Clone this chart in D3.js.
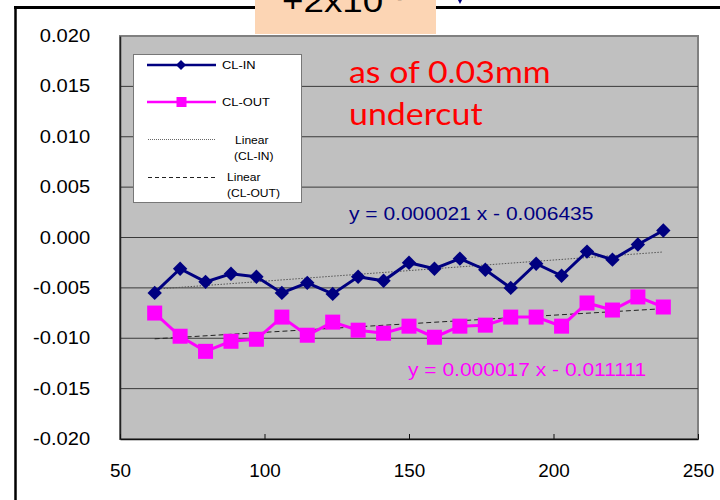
<!DOCTYPE html>
<html>
<head>
<meta charset="utf-8">
<script src="https://cdn.jsdelivr.net/npm/d3@7"></script>
<style>
  html, body { margin: 0; padding: 0; background: #ffffff; }
  svg { display: block; }
</style>
</head>
<body>
<svg id="chart" width="720" height="500"></svg>
<script>
// Measurement positions along the cut
const positions = [62, 70.8, 79.6, 88.4, 97.2, 106, 114.8, 123.6, 132.4, 141.2, 150,
                   158.8, 167.6, 176.4, 185.2, 194, 202.8, 211.6, 220.4, 229.2, 238];

// Deviation values per series
const clIn = [-0.0055, -0.0031, -0.0044, -0.0036, -0.0039, -0.0055, -0.0045, -0.0056, -0.0039, -0.0043, -0.0025,
              -0.0031, -0.0021, -0.0032, -0.0050, -0.0026, -0.0038, -0.0014, -0.0022, -0.0007, 0.0007];
const clOut = [-0.0075, -0.0098, -0.0113, -0.0103, -0.0101, -0.0079, -0.0097, -0.0084, -0.0092, -0.0095, -0.0088,
               -0.0099, -0.0088, -0.0087, -0.0079, -0.0079, -0.0088, -0.0065, -0.0072, -0.0059, -0.0069];

// Linear trend coefficients (slope, intercept) as printed on the chart
const trendIn = [0.000021, -0.006435];
const trendOut = [0.000017, -0.011111];

// Axis tick values
const yTicks = [-0.020, -0.015, -0.010, -0.005, 0.000, 0.005, 0.010, 0.015, 0.020];
const xTicks = [50, 100, 150, 200, 250];

const svg = d3.select("#chart");
const x = d3.scaleLinear().domain([50, 250]).range([120, 698]);
const y = d3.scaleLinear().domain([-0.020, 0.020]).range([439, 36]);
const AX = "Liberation Sans, Arial, sans-serif";

// Text with a slightly wide glyph proportion
function wideText(parent, tx, ty, str, size, sx, opts = {}) {
  return parent.append("text")
    .attr("transform", `translate(${tx},${ty}) scale(${sx},1)`)
    .attr("font-family", opts.family || AX)
    .attr("font-size", size)
    .attr("fill", opts.fill || "#000")
    .attr("text-anchor", opts.anchor || "start")
    .text(str);
}

// Outer frame lines
svg.append("line").attr("x1", 14).attr("x2", 720).attr("y1", 7.5).attr("y2", 7.5)
  .attr("stroke", "#000").attr("stroke-width", 3);
svg.append("line").attr("x1", 15.5).attr("x2", 15.5).attr("y1", 6).attr("y2", 500)
  .attr("stroke", "#000").attr("stroke-width", 2.5);

// Scale factor box at the top
svg.append("rect").attr("x", 255).attr("y", 0).attr("width", 181).attr("height", 34)
  .attr("fill", "#fcd5b4");
wideText(svg, 282, 12, "+2x10", 32, 1.15);
wideText(svg, 397, 4, "-", 14, 1.1);
svg.append("path").attr("d", "M458,0 L462,0 L460,4 Z").attr("fill", "#000080");

// Plot area
svg.append("rect").attr("x", x(50)).attr("y", y(0.020))
  .attr("width", x(250) - x(50)).attr("height", y(-0.020) - y(0.020))
  .attr("fill", "#c0c0c0").attr("stroke", "#808080").attr("stroke-width", 2);

// Gridlines
svg.append("g").selectAll("line")
  .data(yTicks.filter(v => v > -0.020 && v < 0.020))
  .join("line")
  .attr("x1", x(50)).attr("x2", x(250))
  .attr("y1", d => y(d)).attr("y2", d => y(d))
  .attr("stroke", "#3a3a3a").attr("stroke-width", 1);

// Y axis
const yAxis = svg.append("g").attr("transform", `translate(${x(50)},0)`)
  .call(d3.axisLeft(y).tickValues(yTicks).tickSize(0).tickPadding(26)
    .tickFormat(d3.format(".3f")));
yAxis.select(".domain").attr("stroke", "#222").attr("stroke-width", 1.5);
yAxis.selectAll("text").attr("font-family", AX).attr("font-size", 17.5).attr("fill", "#000")
  .attr("transform", "scale(1.15,1)")
  .text(d => d3.format(".3f")(d).replace("−", "-"));

// X axis
const xAxis = svg.append("g").attr("transform", `translate(0,${y(-0.020)})`)
  .call(d3.axisBottom(x).tickValues(xTicks).tickSizeInner(-5).tickSizeOuter(0).tickPadding(26)
    .tickFormat(d3.format("d")));
xAxis.select(".domain").attr("stroke", "#111").attr("stroke-width", 1.5);
xAxis.selectAll(".tick line").attr("stroke", "#111");
xAxis.selectAll("text").attr("font-family", AX).attr("font-size", 17.5).attr("fill", "#000")
  .attr("transform", "scale(1.08,1)");

// Trend lines from the printed equations
const trendLine = (c) => [positions[0], positions[positions.length - 1]].map(p => [p, c[0] * p + c[1]]);
const line = d3.line().x(d => x(d[0])).y(d => y(d[1]));
svg.append("path").datum(trendLine(trendIn)).attr("d", line)
  .attr("fill", "none").attr("stroke", "#555").attr("stroke-width", 1).attr("stroke-dasharray", "1.5,1.5");
svg.append("path").datum(trendLine(trendOut)).attr("d", line)
  .attr("fill", "none").attr("stroke", "#222").attr("stroke-width", 1).attr("stroke-dasharray", "5,3");

// Series lines
const seriesLine = d3.line().x((d, i) => x(positions[i])).y(d => y(d));
svg.append("path").datum(clOut).attr("d", seriesLine)
  .attr("fill", "none").attr("stroke", "#ff00ff").attr("stroke-width", 3);
svg.append("path").datum(clIn).attr("d", seriesLine)
  .attr("fill", "none").attr("stroke", "#000080").attr("stroke-width", 3);

// Markers
svg.append("g").selectAll("rect").data(clOut).join("rect")
  .attr("x", (d, i) => x(positions[i]) - 7.5).attr("y", d => y(d) - 7.5)
  .attr("width", 15).attr("height", 15).attr("fill", "#ff00ff");
svg.append("g").selectAll("path").data(clIn).join("path")
  .attr("d", (d, i) => {
    const cx = x(positions[i]), cy = y(d), r = 7.2;
    return `M${cx},${cy - r}L${cx + r},${cy}L${cx},${cy + r}L${cx - r},${cy}Z`;
  })
  .attr("fill", "#000080");

// Equation labels
const eq = c => `y = ${c[0].toFixed(6)} x - ${Math.abs(c[1]).toFixed(6)}`;
wideText(svg, 349, 220, eq(trendIn), 17.5, 1.2, { fill: "#000080" });
wideText(svg, 408, 376, eq(trendOut), 17.5, 1.2, { fill: "#ff00ff" });

// Annotation
const noteFont = { family: "Lato, 'Open Sans', sans-serif", fill: "#ff0000" };
wideText(svg, 349, 83, "as of 0.03mm", 30, 1.13, noteFont);
wideText(svg, 349, 125, "undercut", 30, 1.13, noteFont);

// Legend
const lg = svg.append("g");
lg.append("rect").attr("x", 133.5).attr("y", 54.5).attr("width", 168).attr("height", 148)
  .attr("fill", "#fff").attr("stroke", "#777").attr("stroke-width", 1);
lg.append("line").attr("x1", 147).attr("x2", 216).attr("y1", 65).attr("y2", 65)
  .attr("stroke", "#000080").attr("stroke-width", 2.5);
lg.append("path").attr("d", "M181,60L186,65L181,70L176,65Z").attr("fill", "#000080");
wideText(lg, 222, 69, "CL-IN", 11.5, 1.12);
lg.append("line").attr("x1", 147).attr("x2", 216).attr("y1", 102).attr("y2", 102)
  .attr("stroke", "#ff00ff").attr("stroke-width", 2.5);
lg.append("rect").attr("x", 176.5).attr("y", 97).attr("width", 10).attr("height", 10).attr("fill", "#ff00ff");
wideText(lg, 222, 106, "CL-OUT", 11.5, 1.12);
lg.append("line").attr("x1", 148).attr("x2", 215).attr("y1", 139.5).attr("y2", 139.5)
  .attr("stroke", "#666").attr("stroke-width", 1).attr("stroke-dasharray", "1,1");
wideText(lg, 235, 144, "Linear", 10.5, 1.15);
wideText(lg, 234, 160, "(CL-IN)", 10.5, 1.15);
lg.append("line").attr("x1", 148).attr("x2", 215).attr("y1", 177.5).attr("y2", 177.5)
  .attr("stroke", "#222").attr("stroke-width", 1).attr("stroke-dasharray", "4,3");
wideText(lg, 227, 181, "Linear", 10.5, 1.15);
wideText(lg, 227, 197, "(CL-OUT)", 10.5, 1.15);
</script>
</body>
</html>
